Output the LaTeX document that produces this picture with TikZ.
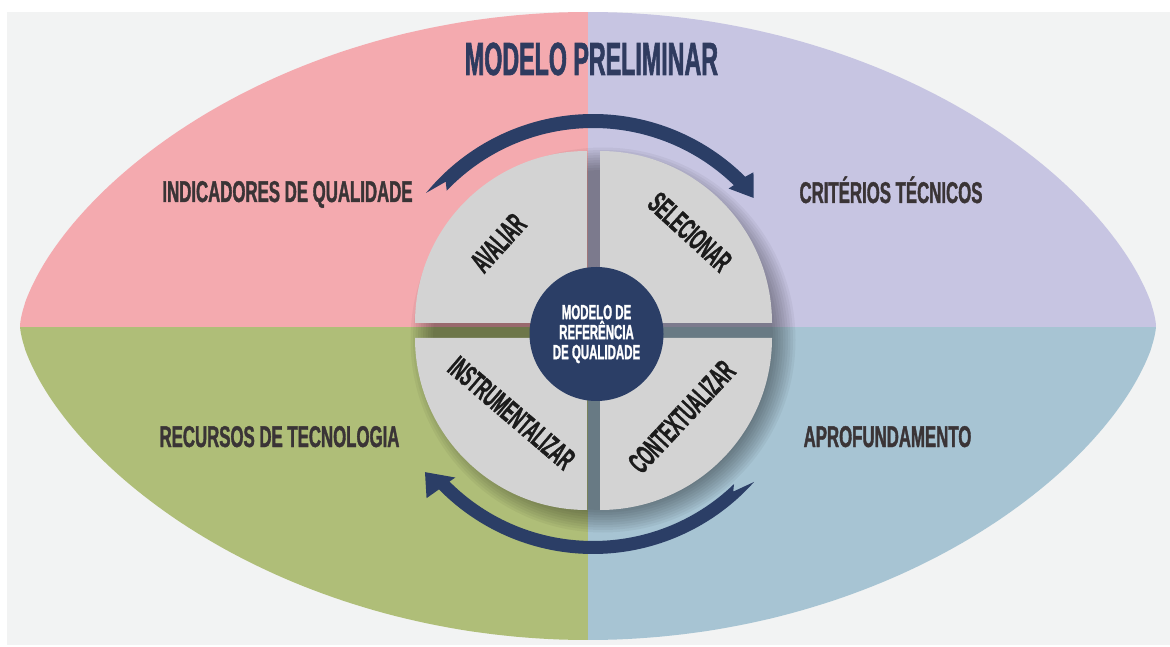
\documentclass[tikz,border=0pt]{standalone}
\usepackage{fontspec}
\usetikzlibrary{calc}
\newfontfamily\bebas[FakeStretch=0.56,FakeBold=1.2]{Liberation Sans}
\newfontfamily\bebasn[FakeStretch=0.5,FakeBold=1.2]{Liberation Sans}
\definecolor{bggray}{HTML}{F2F3F3}
\definecolor{qpink}{HTML}{F4AAAF}
\definecolor{qlav}{HTML}{C7C5E2}
\definecolor{qgreen}{HTML}{AFBE78}
\definecolor{qblue}{HTML}{A7C4D3}
\definecolor{disk}{HTML}{D3D3D3}
\definecolor{navy}{HTML}{2B3E66}
\definecolor{titlec}{HTML}{2F3B5F}
\definecolor{labc}{HTML}{3A3436}
\definecolor{rotc}{HTML}{1B1B1B}
\tikzset{
  quadlabel/.style={text=labc, font=\bebas\bfseries\fontsize{30}{30}\selectfont, anchor=base, inner sep=0pt},
  steplabel/.style={text=rotc, font=\bebasn\bfseries\fontsize{30.5}{30}\selectfont, inner sep=0pt},
  quarter/.style={fill=disk},
  cyclearrow/.style={fill=navy}
}
\begin{document}
\begin{tikzpicture}[x=1pt,y=1pt]
\useasboundingbox (0,0) rectangle (1170,646);
\fill[white] (0,0) rectangle (1170,646);
\fill[bggray] (7,1) rectangle (1170,634);
% lens with four coloured quadrants
\begin{scope}
\clip plot[domain=0:180,samples=160,variable=\t] ({588+568*cos(\t)},{320+314*(sin(\t)+0.00001)^1.3})
   -- plot[domain=180:360,samples=160,variable=\t] ({588+568*cos(\t)},{320-314*(abs(sin(\t))+0.00001)^1.3}) -- cycle;
\fill[qpink] (0,319) rectangle (588,646);
\fill[qlav] (588,319) rectangle (1170,646);
\fill[qgreen] (0,0) rectangle (588,319);
\fill[qblue] (588,0) rectangle (1170,319);
\end{scope}
% title
\node[text=titlec, font=\bebasn\bfseries\fontsize{46.5}{46}\selectfont, anchor=base, inner sep=0pt] (title) at (591.5,571) {MODELO PRELIMINAR};
% quadrant labels
\node[quadlabel] (ind) at (287.5,444) {INDICADORES DE QUALIDADE};
\node[quadlabel] (crit) at (891,443) {CRITÉRIOS TÉCNICOS};
\node[quadlabel] (rec) at (279.5,199) {RECURSOS DE TECNOLOGIA};
\node[quadlabel] (apro) at (887.5,199) {APROFUNDAMENTO};
% drop shadow of the disc
\foreach \i in {0,...,9} {
  \fill[black,opacity=0.045] (603,306) circle ({170+2.5*\i});
}
% four quarters of the disc
\fill[quarter] (587,323) -- ++(90:172) arc[start angle=90,end angle=180,radius=172] -- cycle;
\fill[quarter] (600,323) -- ++(0:172) arc[start angle=0,end angle=90,radius=172] -- cycle;
\fill[quarter] (587,308) -- ++(180:172) arc[start angle=180,end angle=270,radius=172] -- cycle;
\fill[quarter] (600,308) -- ++(270:172) arc[start angle=270,end angle=360,radius=172] -- cycle;
% step labels
\node[steplabel, rotate=48] (aval) at (498.3,403) {AVALIAR};
\node[steplabel, rotate=-42.5] (sel) at (690,414) {SELECIONAR};
\node[steplabel, rotate=-40.5] (inst) at (511.7,233) {INSTRUMENTALIZAR};
\node[steplabel, rotate=47] (cont) at (681.7,229.3) {CONTEXTUALIZAR};
% centre
\node[circle, fill=navy, minimum size=134pt, inner sep=0pt] (core) at (596.5,312) {};
\node[text=white, align=center, font=\bebas\bfseries\fontsize{20.5}{20}\selectfont, inner sep=0pt] (coretext) at (core.center) {MODELO DE\\REFERÊNCIA\\DE QUALIDADE};
% cycle arrows
\coordinate (ct) at (593,316);
\coordinate (cb) at (593,308);
\fill[cyclearrow] ($(ct)+(140.6:216)$) arc[start angle=140.6,end angle=45.2,radius=216]
  -- ($(ct)+(44.5:225)$) -- ($(ct)+(39.4:208)$) -- ($(ct)+(46.2:196)$) -- ($(ct)+(45.8:202)$)
  arc[start angle=45.8,end angle=136.4,radius=202] -- ($(ct)+(134.8:209)$) -- cycle;
\fill[cyclearrow] ($(cb)+(-41.8:216)$) arc[start angle=-41.8,end angle=-135.5,radius=216]
  -- ($(cb)+(-136.1:231)$) -- ($(cb)+(-141.4:215)$) -- ($(cb)+(-134.6:196)$) -- ($(cb)+(-135:203)$)
  arc[start angle=-135,end angle=-46,radius=203] -- ($(cb)+(-47.6:208)$) -- cycle;
\end{tikzpicture}
\end{document}
